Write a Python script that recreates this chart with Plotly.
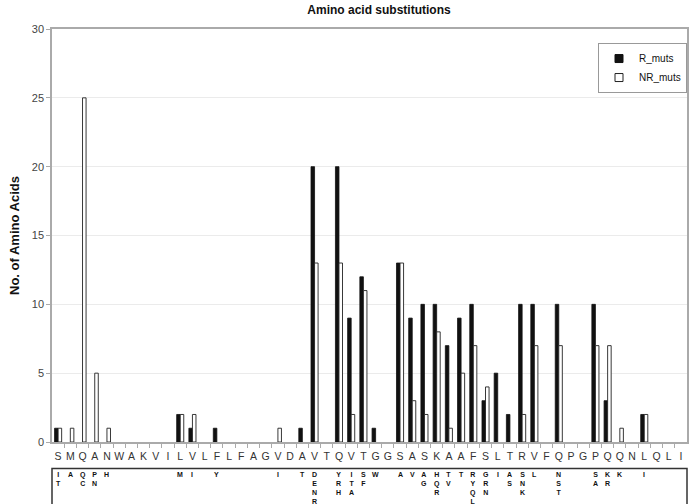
import plotly.graph_objects as go

# ---------------- data ----------------
residues = ["S", "M", "Q", "A", "N", "W", "A", "K", "V", "I",
            "L", "V", "L", "F", "L", "F", "A", "G", "V", "D",
            "A", "V", "T", "Q", "V", "T", "G", "G", "S", "A",
            "S", "K", "A", "A", "F", "S", "L", "T", "R", "V",
            "F", "Q", "P", "G", "P", "Q", "Q", "N", "L", "Q",
            "L", "I"]

R_muts = [1, 0, 0, 0, 0, 0, 0, 0, 0, 0,
          2, 1, 0, 1, 0, 0, 0, 0, 0, 0,
          1, 20, 0, 20, 9, 12, 1, 0, 13, 9,
          10, 10, 7, 9, 10, 3, 5, 2, 10, 10,
          0, 10, 0, 0, 10, 3, 0, 0, 2, 0,
          0, 0]

NR_muts = [1, 1, 25, 5, 1, 0, 0, 0, 0, 0,
           2, 2, 0, 0, 0, 0, 0, 0, 1, 0,
           0, 13, 0, 13, 2, 11, 0, 0, 13, 3,
           2, 8, 1, 5, 7, 4, 0, 0, 2, 7,
           0, 7, 0, 0, 7, 7, 1, 0, 2, 0,
           0, 0]

substitutions = ["IT", "A", "QC", "PN", "H", "", "", "", "", "",
                 "M", "I", "", "Y", "", "", "", "", "I", "",
                 "T", "DENR", "", "YRH", "ITA", "SF", "W", "", "A", "V",
                 "AG", "HQR", "TV", "T", "RYQL", "GRN", "I", "AS", "SNK", "L",
                 "", "NST", "", "", "SA", "KR", "K", "", "I", "",
                 "", ""]

y_ticks = [0, 5, 10, 15, 20, 25, 30]

# ---------------- figure ----------------
xs = list(range(len(residues)))
FONT = "Liberation Sans, Arial, sans-serif"

fig = go.Figure()
fig.add_trace(go.Bar(
    x=xs, y=[v if v else None for v in R_muts], name="R_muts",
    legendgroup="R", showlegend=False,
    marker=dict(color="#111111", line=dict(color="#111111", width=0.8)),
))
fig.add_trace(go.Bar(
    x=xs, y=[v if v else None for v in NR_muts], name="NR_muts",
    legendgroup="NR", showlegend=False,
    marker=dict(color="#ffffff", line=dict(color="#222222", width=0.9)),
))
# legend entries with small square keys, as in the original
fig.add_trace(go.Scatter(
    x=[None], y=[None], mode="markers", name="R_muts", legendgroup="R",
    marker=dict(symbol="square", size=8, color="#111111",
                line=dict(color="#111111", width=1)),
))
fig.add_trace(go.Scatter(
    x=[None], y=[None], mode="markers", name="NR_muts", legendgroup="NR",
    marker=dict(symbol="square", size=8, color="#ffffff",
                line=dict(color="#222222", width=1)),
))

# substitution letters under each residue
for i, s in enumerate(substitutions):
    if s:
        fig.add_annotation(
            x=i, xref="x", y=-0.066, yref="paper", yanchor="top",
            text="<br>".join(list(s)), showarrow=False,
            font=dict(family=FONT, size=7, color="#111111", weight="bold"),
            align="center",
        )

# box around substitution table
fig.add_shape(type="rect", xref="paper", yref="paper",
              x0=0, x1=1, y0=-0.064, y1=-0.3,
              line=dict(color="#333333", width=1.5), fillcolor="rgba(0,0,0,0)",
              layer="above")

fig.update_layout(
    width=694, height=504,
    margin=dict(l=52, r=5, t=29, b=62),
    paper_bgcolor="white", plot_bgcolor="white",
    barmode="group", bargap=0.42, bargroupgap=0,
    font=dict(family=FONT, color="#333333"),
    title=dict(text="<b>Amino acid substitutions</b>", x=0.515, xref="paper",
               xanchor="center", y=0.98, yanchor="middle",
               font=dict(family=FONT, size=12, color="#111111")),
    showlegend=True,
    legend=dict(x=1, xanchor="right", y=0.966, yanchor="top",
                bordercolor="#999999", borderwidth=1, bgcolor="white",
                font=dict(family=FONT, size=10, color="#111111"),
                itemwidth=30, tracegroupgap=0),
    xaxis=dict(
        range=[-0.5, len(residues) - 0.5],
        tickmode="array", tickvals=xs, ticktext=residues,
        ticks="", showgrid=False, zeroline=False,
        showline=True, linecolor="#aaaaaa", linewidth=1.5, mirror=True,
        tickfont=dict(family=FONT, size=10.5, color="#333333"),
        ticklabelstandoff=4,
        minor=dict(tickmode="array", tickvals=[i + 0.5 for i in xs[:-1]],
                   ticks="outside", ticklen=4, tickcolor="#aaaaaa", showgrid=False),
        fixedrange=True,
    ),
    yaxis=dict(
        range=[0, 30], tickmode="array", tickvals=y_ticks,
        showgrid=True, gridcolor="#ebebeb", gridwidth=1,
        zeroline=False, showline=True, linecolor="#aaaaaa", linewidth=1.5, mirror=True,
        ticks="outside", ticklen=4, tickcolor="#aaaaaa",
        tickfont=dict(family=FONT, size=11, color="#444444"),
        title=dict(text="<b>No. of Amino Acids</b>", standoff=9,
                   font=dict(family=FONT, size=13, color="#111111")),
    ),
)

fig.write_html(
    "out.html",
    config={"displayModeBar": False},
    post_script="document.body.style.margin='0';document.body.style.overflow='hidden';",
)
